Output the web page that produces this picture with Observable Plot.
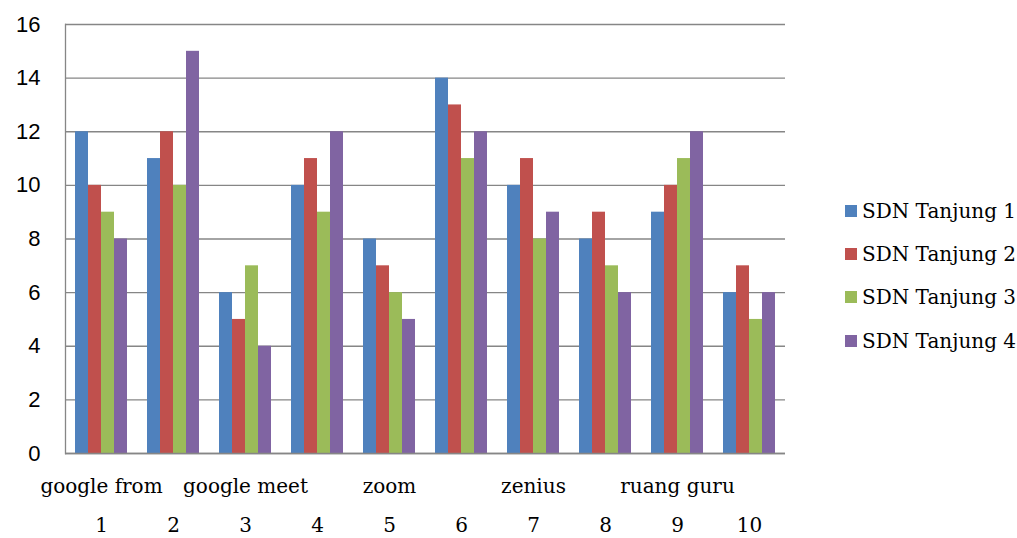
<!DOCTYPE html>
<html>
<head>
<meta charset="utf-8">
<script src="https://cdn.jsdelivr.net/npm/d3@7"></script>
<script src="https://cdn.jsdelivr.net/npm/@observablehq/plot@0.6"></script>
<style>
  html, body { margin: 0; padding: 0; background: #fff; }
  #wrap { position: relative; width: 1017px; height: 538px; }
  #legend { position: absolute; left: 845px; top: 0; font-family: "DejaVu Serif", serif; font-size: 20px; color: #000; }
  .item { position: absolute; left: 0; white-space: nowrap; display: flex; align-items: center; height: 24px; }
  .sw { width: 12px; height: 12px; margin-right: 5px; }
</style>
</head>
<body>
<div id="wrap"><div id="legend"></div></div>
<script>
const groups = [1, 2, 3, 4, 5, 6, 7, 8, 9, 10];
const series = ["SDN Tanjung 1", "SDN Tanjung 2", "SDN Tanjung 3", "SDN Tanjung 4"];
const tanjung1 = [12, 11, 6, 10, 8, 14, 10, 8, 9, 6];
const tanjung2 = [10, 12, 5, 11, 7, 13, 11, 9, 10, 7];
const tanjung3 = [9, 10, 7, 9, 6, 11, 8, 7, 11, 5];
const tanjung4 = [8, 15, 4, 12, 5, 12, 9, 6, 12, 6];
const colors = ["#4F81BD", "#C0504D", "#9BBB59", "#8064A2"];
const platformLabels = ["google from", "google meet", "zoom", "zenius", "ruang guru"];
const platformGroups = [1, 3, 5, 7, 9];
const yTicks = [0, 2, 4, 6, 8, 10, 12, 14, 16];

const values = [tanjung1, tanjung2, tanjung3, tanjung4];
const data = groups.flatMap((g, i) => series.map((s, j) => ({group: g, series: s, value: values[j][i]})));
const platforms = platformLabels.map((name, i) => ({group: platformGroups[i], name}));

const gridColor = "#868686";
const chart = Plot.plot({
  width: 1017,
  height: 538,
  marginLeft: 63,
  marginRight: 230,
  marginTop: 24,
  marginBottom: 85,
  style: {fontFamily: "Liberation Sans, sans-serif", fontSize: "20px", background: "#fff"},
  fx: {domain: groups, padding: 0, axis: null},
  x: {domain: series, paddingInner: 0, paddingOuter: 0.75, axis: null},
  y: {domain: [0, 16], axis: null},
  color: {domain: series, range: colors},
  marks: [
    Plot.gridY(yTicks, {stroke: gridColor, strokeOpacity: 1, strokeWidth: 1.3}),
    Plot.barY(data, {fx: "group", x: "series", y: "value", fill: "series"}),
    Plot.ruleY([0], {stroke: gridColor, strokeWidth: 1.3}),
    Plot.frame({anchor: "left", facetAnchor: "left", stroke: gridColor, strokeWidth: 1.3}),
    Plot.axisY(yTicks, {tickSize: 0, tickPadding: 25, fontSize: 22, fill: "#000", label: null, fontFamily: "Liberation Sans, sans-serif"}),
    Plot.text(platforms, {fx: "group", text: "name", frameAnchor: "bottom", dy: 33, lineAnchor: "middle", fontFamily: "DejaVu Serif", fontSize: 20, fill: "#000"}),
    Plot.text(groups, {fx: d => d, text: d => String(d), frameAnchor: "bottom", dy: 72, lineAnchor: "middle", fontFamily: "DejaVu Serif", fontSize: 20, fill: "#000"})
  ]
});
document.getElementById("wrap").prepend(chart);

const legend = document.getElementById("legend");
const rowCenters = [211, 254, 297, 341];
series.forEach((s, i) => {
  const item = document.createElement("div");
  item.className = "item";
  item.style.top = (rowCenters[i] - 12) + "px";
  const sw = document.createElement("div");
  sw.className = "sw";
  sw.style.background = colors[i];
  const label = document.createElement("span");
  label.textContent = s;
  item.append(sw, label);
  legend.append(item);
});
</script>
</body>
</html>
